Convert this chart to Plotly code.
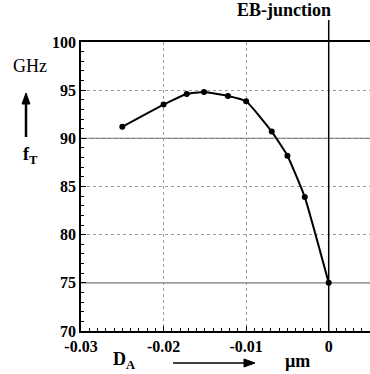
import plotly.graph_objects as go

# Data
da_um = [-0.025, -0.020, -0.0172, -0.0151, -0.0122, -0.0100, -0.0069, -0.0050, -0.0029, 0.0]
ft_ghz = [91.2, 93.5, 94.6, 94.8, 94.4, 93.85, 90.7, 88.2, 83.9, 75.0]

x_ticks = [-0.03, -0.02, -0.01, 0]
x_tick_labels = ["-0.03", "-0.02", "-0.01", "0"]
y_ticks = [70, 75, 80, 85, 90, 95, 100]
y_tick_labels = ["70", "75", "80", "85", "90", "95", "100"]
solid_grid_y = [90, 75]

FONT = "Liberation Serif"

# plot area in pixels (for placing decorations)
L, R, T, B = 81, 370, 42, 331
def px(xp):
    return (xp - L) / (R - L)
def py(yp):
    return (B - yp) / (B - T)

fig = go.Figure()
fig.add_trace(go.Scatter(
    x=da_um, y=ft_ghz, mode="lines+markers",
    line=dict(color="black", width=2, shape="spline", smoothing=0.4),
    marker=dict(color="black", size=6),
    showlegend=False, hoverinfo="skip"))

for yv in solid_grid_y:
    fig.add_shape(type="line", xref="paper", x0=0, x1=1, yref="y", y0=yv, y1=yv,
                  line=dict(color="#777777", width=1.3), layer="below")

# EB-junction line
fig.add_shape(type="line", xref="x", x0=0, x1=0, yref="paper", y0=0, y1=py(20),
              line=dict(color="black", width=1.5))

# arrows drawn as shapes
fig.add_shape(type="line", xref="paper", yref="paper", x0=px(26), x1=px(26), y0=py(137), y1=py(103),
              line=dict(color="black", width=2.5))
fig.add_shape(type="path", xref="paper", yref="paper",
              path=f"M {px(26)} {py(93)} L {px(30)} {py(104)} L {px(22)} {py(104)} Z",
              fillcolor="black", line=dict(color="black", width=1))
fig.add_shape(type="line", xref="paper", yref="paper", x0=px(173), x1=px(246), y0=py(363), y1=py(363),
              line=dict(color="black", width=1.5))
fig.add_shape(type="path", xref="paper", yref="paper",
              path=f"M {px(255)} {py(363)} L {px(244)} {py(359)} L {px(244)} {py(367)} Z",
              fillcolor="black", line=dict(color="black", width=1))

annotations = [
    dict(text="<b>EB-junction</b>", x=0.0005, xref="x", xanchor="right", y=py(22), yref="paper",
         yanchor="bottom", showarrow=False, font=dict(family=FONT, size=18, color="black")),
    dict(text="GHz", x=px(30), y=py(66), xref="paper", yref="paper", xanchor="center", yanchor="middle",
         showarrow=False, font=dict(family=FONT, size=18, color="black")),
    dict(text="<b>f<sub>T</sub></b>", x=px(30), y=py(155), xref="paper", yref="paper",
         xanchor="center", yanchor="middle", showarrow=False,
         font=dict(family=FONT, size=18, color="black")),
    dict(text="<b>D<sub>A</sub></b>", x=px(124), y=py(360), xref="paper", yref="paper",
         xanchor="center", yanchor="middle", showarrow=False,
         font=dict(family=FONT, size=18, color="black")),
    dict(text="<b>µm</b>", x=px(297), y=py(361), xref="paper", yref="paper",
         xanchor="center", yanchor="middle", showarrow=False,
         font=dict(family=FONT, size=18, color="black")),
]

fig.update_layout(
    width=370, height=374,
    margin=dict(l=L, r=370 - R, t=T, b=374 - B),
    paper_bgcolor="white", plot_bgcolor="white",
    annotations=annotations,
    font=dict(family=FONT, color="black"),
)
fig.update_xaxes(
    range=[-0.03, 0.005], tickvals=x_ticks, ticktext=[f"<b>{t}</b>" for t in x_tick_labels],
    showline=True, linecolor="black", linewidth=1.5, mirror=True,
    ticks="inside", ticklen=5, tickcolor="black",
    showgrid=True, gridcolor="#999999", griddash="dot", gridwidth=1,
    zeroline=False,
    tickfont=dict(family=FONT, size=16, color="black"),
    minor=dict(ticks="inside", ticklen=3, dtick=0.001, tick0=0, tickcolor="black", showgrid=False),
)
fig.update_yaxes(
    range=[70, 100], tickvals=y_ticks, ticktext=[f"<b>{t}</b>" for t in y_tick_labels],
    showline=True, linecolor="black", linewidth=1.5,
    ticks="inside", ticklen=5, tickcolor="black",
    showgrid=True, gridcolor="#999999", griddash="dot", gridwidth=1,
    zeroline=False,
    tickfont=dict(family=FONT, size=16, color="black"),
    minor=dict(ticks="inside", ticklen=3, dtick=1, tick0=70, tickcolor="black", showgrid=False),
)

fig.write_html("out.html")
